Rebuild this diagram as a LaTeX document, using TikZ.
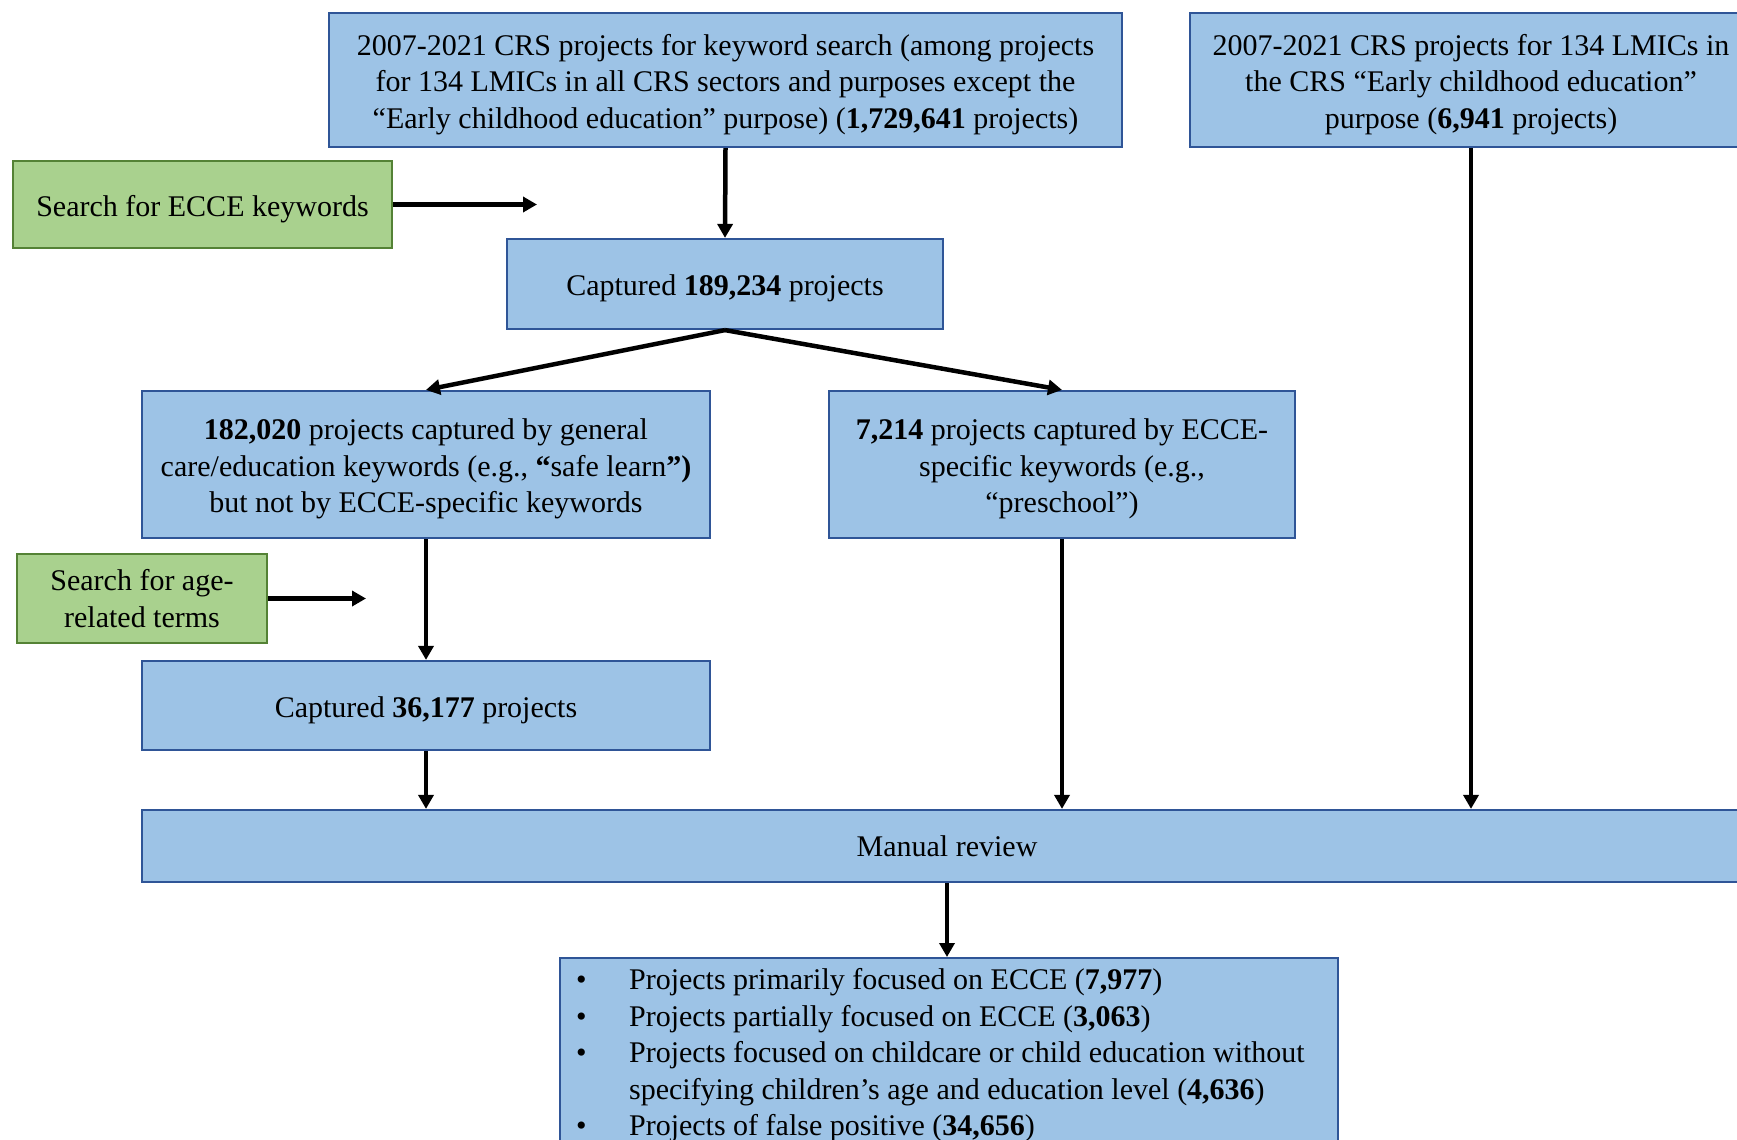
\documentclass[tikz,border=0pt]{standalone}
\usepackage{fontspec}
\setmainfont{Liberation Serif}
\usetikzlibrary{arrows.meta}
\definecolor{bfill}{RGB}{157,195,230}
\definecolor{bline}{RGB}{47,85,151}
\definecolor{gfill}{RGB}{169,209,142}
\definecolor{gline}{RGB}{84,130,53}
\newcommand\tstr{\rule{0pt}{30pt}}
\begin{document}
\begin{tikzpicture}[x=1pt,y=-1pt,
  every node/.style={font=\fontsize{30}{36.5}\selectfont},
  bbox/.style={draw=bline,fill=bfill,line width=2.2pt,inner sep=0pt,align=center},
  gbox/.style={draw=gline,fill=gfill,line width=2.2pt,inner sep=0pt,align=center},
  arr/.style={line width=4.5pt,-{Triangle[length=14pt,width=15pt]}}]
\clip (0,0) rectangle (1737,1140);
\useasboundingbox (0,0) rectangle (1737,1140);
\node[bbox,minimum width=793,minimum height=134] (tl) at (725.5,80)
  {\tstr 2007-2021 CRS projects for keyword search (among projects\\for 134 LMICs in all CRS sectors and purposes except the\\“Early childhood education” purpose) (\textbf{1,729,641} projects)};
\node[bbox,minimum width=562,minimum height=134] (tr) at (1471,80)
  {\tstr 2007-2021 CRS projects for 134 LMICs in\\the CRS “Early childhood education”\\purpose (\textbf{6,941} projects)};
\node[gbox,minimum width=379,minimum height=87] (g1) at (202.5,204.5) {\tstr Search for ECCE keywords};
\coordinate (g1e) at (537,204.5);
\node[bbox,minimum width=436,minimum height=90] (cap) at (725,284) {\tstr Captured \textbf{189,234} projects};
\node[bbox,minimum width=568,minimum height=147] (gen) at (426,464.5)
  {\tstr\textbf{182,020} projects captured by general\\care/education keywords (e.g., \textbf{“}safe learn\textbf{”)}\\but not by ECCE-specific keywords};
\node[bbox,minimum width=466,minimum height=147] (spec) at (1062,464.5)
  {\tstr\textbf{7,214} projects captured by ECCE-\\specific keywords (e.g.,\\“preschool”)};
\node[gbox,minimum width=250,minimum height=89] (g2) at (142,598.5) {Search for age-\\related terms};
\coordinate (g2e) at (366,598.5);
\node[bbox,minimum width=568,minimum height=89] (age) at (426,705.5) {\tstr Captured \textbf{36,177} projects};
\node[bbox,minimum width=1610,minimum height=72] (mr) at (947,846) {Manual review};
\node[bbox,anchor=north west,inner xsep=16pt,inner ysep=6pt] (res) at (559,957)
  {\makebox[746pt][l]{\begin{tabular}{@{}p{53pt}@{}l@{}}
   \textbullet & Projects primarily focused on ECCE (\textbf{7,977})\\
   \textbullet & Projects partially focused on ECCE (\textbf{3,063})\\
   \textbullet & Projects focused on childcare or child education without\\
    & specifying children’s age and education level (\textbf{4,636})\\
   \textbullet & Projects of false positive (\textbf{34,656})\\
    &
   \end{tabular}}};
\draw[arr] (g1.east) -- (g1e);
\draw[arr] (g2.east) -- (g2e);
\draw[arr] (tl.south) -- (cap.north);
\draw[arr] (cap.south) -- (gen.north);
\draw[arr] (cap.south) -- (spec.north);
\draw[arr] (gen.south) -- (age.north);
\draw[arr] (age.south) -- (age.south |- mr.north);
\draw[arr] (spec.south) -- (spec.south |- mr.north);
\draw[arr] (tr.south) -- (tr.south |- mr.north);
\draw[arr] (mr.south) -- (mr.south |- res.north);
\end{tikzpicture}
\end{document}
